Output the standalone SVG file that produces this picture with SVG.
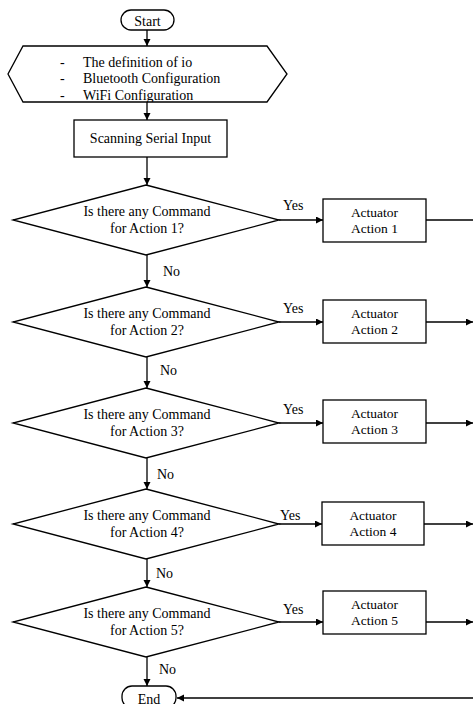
<svg xmlns="http://www.w3.org/2000/svg" width="473" height="704" viewBox="0 0 473 704">
<style>
.s{fill:#fff;stroke:#000;stroke-width:1.3}
.t{font-family:"Liberation Serif","Times New Roman",serif;font-size:14px;fill:#000}
.a{font-family:"Liberation Serif","Times New Roman",serif;font-size:13.5px;fill:#000;text-anchor:middle}
.m{text-anchor:middle}
.c{fill:none;stroke:#000;stroke-width:1.3}
</style>
<defs>
<marker id="ah" markerWidth="8" markerHeight="8" refX="7" refY="3.5" orient="auto" markerUnits="userSpaceOnUse">
<path d="M0,0 L7,3.5 L0,7 Z" fill="#000"/>
</marker>
<clipPath id="hexclip"><polygon points="23,46 267,46 287,74 267,102 23,102 8,74"/></clipPath>
</defs>
<rect width="473" height="704" fill="#fff"/>
<g id="connectors">
<line class="c" x1="147" y1="30" x2="147" y2="46" marker-end="url(#ah)"/>
<line class="c" x1="147" y1="102" x2="147" y2="120" marker-end="url(#ah)"/>
<line class="c" x1="147" y1="157" x2="147" y2="185" marker-end="url(#ah)"/>
<line class="c" x1="147" y1="255" x2="147" y2="287" marker-end="url(#ah)"/>
<line class="c" x1="147" y1="357" x2="147" y2="388" marker-end="url(#ah)"/>
<line class="c" x1="147" y1="458" x2="147" y2="489" marker-end="url(#ah)"/>
<line class="c" x1="147" y1="559" x2="147" y2="587" marker-end="url(#ah)"/>
<line class="c" x1="147" y1="657" x2="147" y2="686" marker-end="url(#ah)"/>
<line class="c" x1="279" y1="220" x2="323" y2="220" marker-end="url(#ah)"/>
<line class="c" x1="279" y1="322" x2="323" y2="322" marker-end="url(#ah)"/>
<line class="c" x1="279" y1="423" x2="323" y2="423" marker-end="url(#ah)"/>
<line class="c" x1="279" y1="524" x2="322" y2="524" marker-end="url(#ah)"/>
<line class="c" x1="279" y1="622" x2="323" y2="622" marker-end="url(#ah)"/>
<line class="c" x1="426" y1="220" x2="473" y2="220"/>
<line class="c" x1="426" y1="322" x2="473" y2="322" marker-end="url(#ah)"/>
<line class="c" x1="426" y1="423" x2="473" y2="423" marker-end="url(#ah)"/>
<line class="c" x1="424" y1="524" x2="473" y2="524" marker-end="url(#ah)"/>
<line class="c" x1="426" y1="622" x2="473" y2="622" marker-end="url(#ah)"/>
<line class="c" x1="473" y1="698" x2="177" y2="698" marker-end="url(#ah)"/>
<text class="t" x="283" y="210">Yes</text>
<text class="t" x="283" y="313">Yes</text>
<text class="t" x="283" y="414">Yes</text>
<text class="t" x="280" y="520">Yes</text>
<text class="t" x="283" y="614">Yes</text>
<text class="t" x="163" y="276">No</text>
<text class="t" x="160" y="375">No</text>
<text class="t" x="157" y="479">No</text>
<text class="t" x="156" y="578">No</text>
<text class="t" x="159" y="674">No</text>
</g>
<g id="start">
<rect class="s" x="121" y="10" width="53" height="20" rx="10"/>
<text class="t m" x="147.5" y="26">Start</text>
</g>
<g id="init">
<polygon class="s" points="23,46 267,46 287,74 267,102 23,102 8,74"/>
<g clip-path="url(#hexclip)">
<text class="t" x="60" y="67">-</text><text class="t" x="83" y="67">The definition of io</text>
<text class="t" x="60" y="83">-</text><text class="t" x="83" y="83">Bluetooth Configuration</text>
<text class="t" x="60" y="100">-</text><text class="t" x="83" y="100">WiFi Configuration</text>
</g>
</g>
<g id="scan">
<rect class="s" x="74" y="120" width="153" height="37"/>
<text class="t m" x="150.5" y="143">Scanning Serial Input</text>
</g>
<g id="q1">
<polygon class="s" points="146,185 279,220 146,255 13,220"/>
<text class="t m" x="147" y="216">Is there any Command</text>
<text class="t m" x="147" y="233">for Action 1?</text>
</g>
<g id="q2">
<polygon class="s" points="146,287 279,322 146,357 13,322"/>
<text class="t m" x="147" y="318">Is there any Command</text>
<text class="t m" x="147" y="335">for Action 2?</text>
</g>
<g id="q3">
<polygon class="s" points="146,388 279,423 146,458 13,423"/>
<text class="t m" x="147" y="419">Is there any Command</text>
<text class="t m" x="147" y="436">for Action 3?</text>
</g>
<g id="q4">
<polygon class="s" points="146,489 279,524 146,559 13,524"/>
<text class="t m" x="147" y="520">Is there any Command</text>
<text class="t m" x="147" y="537">for Action 4?</text>
</g>
<g id="q5">
<polygon class="s" points="146,587 279,622 146,657 13,622"/>
<text class="t m" x="147" y="618">Is there any Command</text>
<text class="t m" x="147" y="635">for Action 5?</text>
</g>
<g id="act1">
<rect class="s" x="323" y="199" width="103" height="43"/>
<text class="a" x="374.5" y="217">Actuator</text>
<text class="a" x="374.5" y="233">Action 1</text>
</g>
<g id="act2">
<rect class="s" x="323" y="300" width="103" height="43"/>
<text class="a" x="374.5" y="318">Actuator</text>
<text class="a" x="374.5" y="334">Action 2</text>
</g>
<g id="act3">
<rect class="s" x="323" y="400" width="103" height="43"/>
<text class="a" x="374.5" y="418">Actuator</text>
<text class="a" x="374.5" y="434">Action 3</text>
</g>
<g id="act4">
<rect class="s" x="322" y="502" width="102" height="43"/>
<text class="a" x="373" y="520">Actuator</text>
<text class="a" x="373" y="536">Action 4</text>
</g>
<g id="act5">
<rect class="s" x="323" y="591" width="103" height="43"/>
<text class="a" x="374.5" y="609">Actuator</text>
<text class="a" x="374.5" y="625">Action 5</text>
</g>
<g id="end">
<rect class="s" x="122" y="686" width="54" height="22" rx="10"/>
<text class="t m" x="149" y="704">End</text>
</g>
</svg>
